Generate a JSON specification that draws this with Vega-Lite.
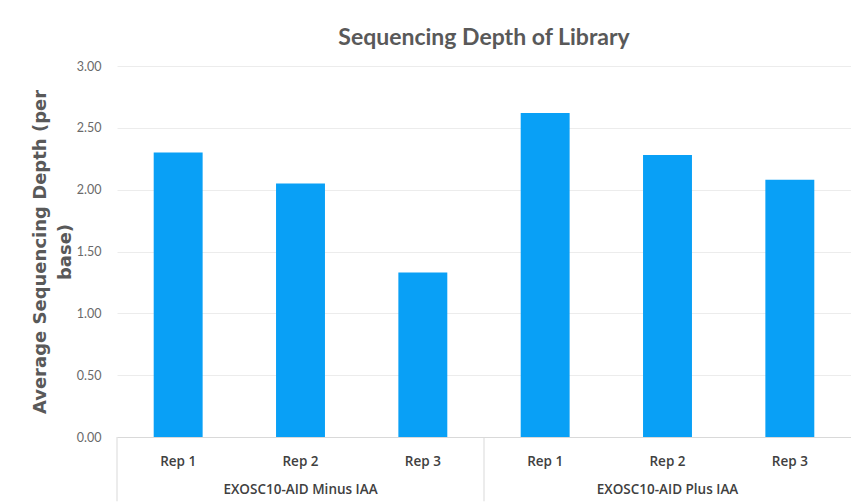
{
  "$schema": "https://vega.github.io/schema/vega-lite/v6.json",
  "width": 734,
  "height": 371,
  "autosize": {"type": "pad"},
  "padding": {"left": 31, "top": 27, "right": 0, "bottom": 0},
  "background": "white",
  "config": {
    "font": "Lato",
    "view": {"stroke": null}
  },
  "title": {
    "text": "Sequencing Depth of Library",
    "fontSize": 23,
    "fontWeight": "bold",
    "color": "#595959",
    "anchor": "middle",
    "offset": 10
  },
  "data": {
    "values": [
      {"group": "EXOSC10-AID Minus IAA", "rep": "Rep 1", "key": "Minus|Rep 1", "depth": 2.30},
      {"group": "EXOSC10-AID Minus IAA", "rep": "Rep 2", "key": "Minus|Rep 2", "depth": 2.05},
      {"group": "EXOSC10-AID Minus IAA", "rep": "Rep 3", "key": "Minus|Rep 3", "depth": 1.33},
      {"group": "EXOSC10-AID Plus IAA", "rep": "Rep 1", "key": "Plus|Rep 1", "depth": 2.62},
      {"group": "EXOSC10-AID Plus IAA", "rep": "Rep 2", "key": "Plus|Rep 2", "depth": 2.28},
      {"group": "EXOSC10-AID Plus IAA", "rep": "Rep 3", "key": "Plus|Rep 3", "depth": 2.08}
    ]
  },
  "layer": [
    {
      "mark": {"type": "bar", "color": "#09A0F6", "width": {"band": 0.4}},
      "encoding": {
        "x": {
          "field": "key",
          "type": "nominal",
          "sort": null,
          "scale": {"paddingInner": 0, "paddingOuter": 0},
          "axis": {
            "title": null,
            "orient": "bottom",
            "labelExpr": "split(datum.label, '|')[1]",
            "labelAngle": 0,
            "labelFont": "Open Sans",
            "labelFontSize": 13.5,
            "labelFontWeight": 600,
            "labelColor": "#404040",
            "labelPadding": 17,
            "domain": true,
            "domainColor": "#d9d9d9",
            "ticks": false
          }
        },
        "y": {
          "field": "depth",
          "type": "quantitative",
          "scale": {"domain": [0, 3], "clamp": false, "nice": false, "zero": false},
          "axis": {
            "title": ["Average Sequencing Depth (per", "base)"],
            "titleFont": "DejaVu Sans",
            "titleFontSize": 18,
            "titleFontWeight": "bold",
            "titleColor": "#595959",
            "titleLineHeight": 25,
            "titlePadding": 2,
            "values": [0, 0.5, 1, 1.5, 2, 2.5, 3],
            "format": ".2f",
            "labelFontSize": 12.5,
            "labelColor": "#6a6a6a",
            "labelPadding": 16,
            "domain": false,
            "ticks": false,
            "grid": true,
            "gridColor": "#ececec"
          }
        }
      }
    },
    {
      "transform": [{"filter": "datum.rep == 'Rep 1'"}],
      "mark": {"type": "rule", "color": "#d9d9d9", "strokeWidth": 1, "clip": false},
      "encoding": {
        "x": {"field": "key", "type": "nominal", "sort": null, "bandPosition": 0},
        "y": {"datum": 0, "type": "quantitative"},
        "y2": {"datum": -0.52}
      }
    },
    {
      "transform": [{"filter": "datum.rep == 'Rep 2'"}],
      "mark": {"type": "text", "baseline": "middle", "font": "Open Sans", "fontSize": 13.5, "fontWeight": 600, "color": "#404040", "clip": false},
      "encoding": {
        "x": {"field": "key", "type": "nominal", "sort": null},
        "y": {"datum": -0.43, "type": "quantitative"},
        "text": {"field": "group"}
      }
    }
  ]
}
